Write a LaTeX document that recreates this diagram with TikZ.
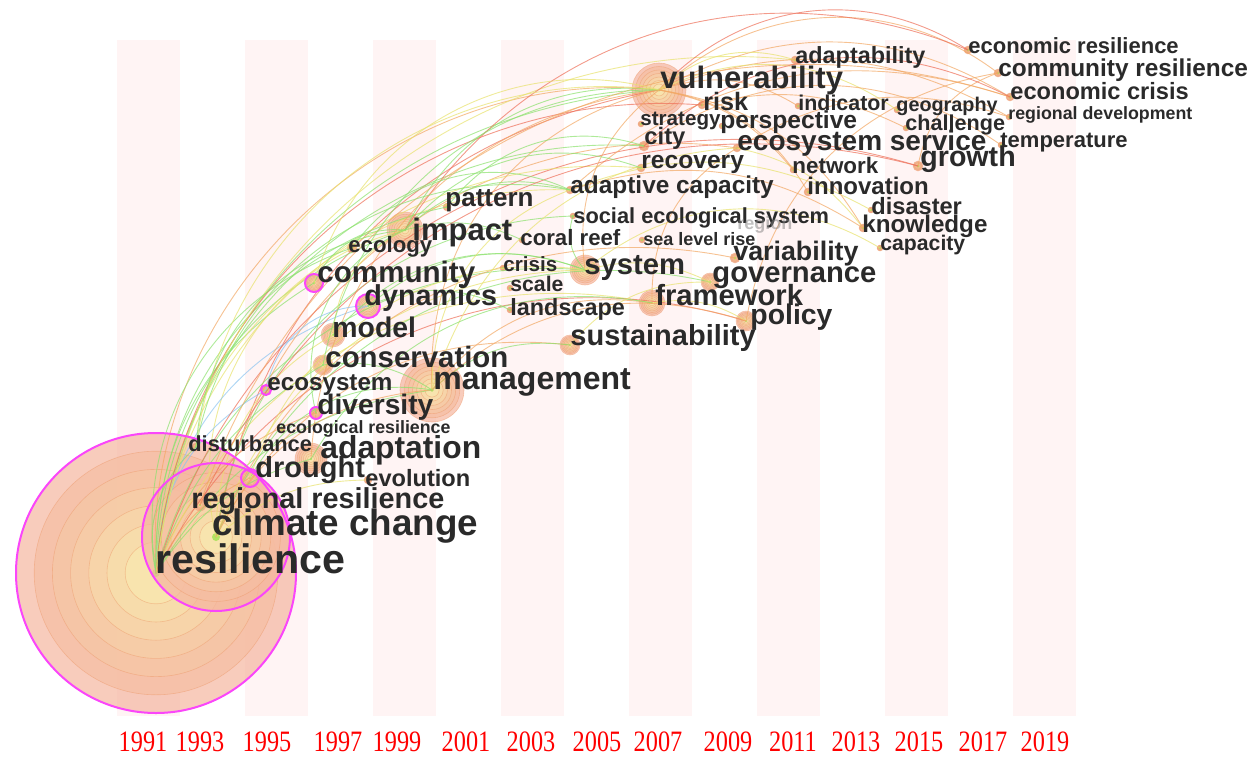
\documentclass[tikz,border=0pt]{standalone}
\usepackage{fontspec}
\setmainfont{Liberation Sans}
\newfontfamily\yearfont[FakeStretch=0.82]{Liberation Serif}
\usepackage{xcolor}
\usepackage{tikz}

\definecolor{stripe}{RGB}{255,244,244}
\definecolor{ringout}{RGB}{245,182,160}
\definecolor{ringin}{RGB}{250,246,180}
\definecolor{ringedge}{RGB}{236,150,100}
\definecolor{ctrgreen}{RGB}{160,226,80}
\definecolor{magring}{RGB}{250,70,250}
\definecolor{kwtext}{RGB}{42,42,42}
\definecolor{lkgreen}{RGB}{140,225,110}
\definecolor{lkyellow}{RGB}{232,226,110}
\definecolor{lkorange}{RGB}{242,168,100}
\definecolor{lkred}{RGB}{238,112,90}
\definecolor{lkblue}{RGB}{140,196,240}

\newcommand{\kwfont}[1]{\fontsize{#1}{#1}\selectfont\bfseries}
% one keyword node: name, x, y, radius
\newcommand{\ringnode}[4]{%
  \coordinate (#1) at (#2,#3);
  \foreach \f [evaluate=\f as \p using int(100*\f)] in {1,0.87,0.74,0.61,0.48,0.35,0.22}
    \filldraw[fill=ringout!\p!ringin, draw=ringedge, line width=0.3pt,
              fill opacity=0.7, draw opacity=0.45] (#1) circle ({#4*\f});
  \fill[ctrgreen, opacity=0.8] (#1) circle ({min(4,max(1.2,0.06*#4))});
}

\tikzset{
  kw/.style={anchor=base west, inner sep=0pt, text=kwtext, font=\kwfont{#1}},
  lk/.style={line width=0.45pt, opacity=0.7},
  halo/.style={draw=magring, line width=1pt},
  year/.style={text=red, inner sep=0pt, font=\yearfont\fontsize{14.8}{14.8}\selectfont}
}

\begin{document}
\begin{tikzpicture}[x=0.5pt, y=-0.5pt]
    \useasboundingbox (0,0) rectangle (1256,770);

    % Time slices
    \foreach \k in {0,...,7}
        \fill[stripe] ({117+128*\k},40) rectangle ++(63,676);

    % Keyword nodes
    \ringnode{res}{156}{573}{140}
    \ringnode{cc}{216}{537}{74}
    \ringnode{dro}{250}{478}{9}
    \ringnode{dist}{196}{447}{4}
    \ringnode{regres}{200}{505}{6}
    \ringnode{adp}{311}{459}{16}
    \ringnode{ecolr}{282}{430}{3}
    \ringnode{div}{316}{413}{6}
    \ringnode{eco}{266}{390}{5}
    \ringnode{evo}{368}{480}{4}
    \ringnode{man}{432}{390}{32}
    \ringnode{con}{323}{365}{10}
    \ringnode{mod}{333}{335}{12}
    \ringnode{dyn}{368}{306}{12}
    \ringnode{com}{314}{283}{9}
    \ringnode{ecolg}{352}{248}{5}
    \ringnode{imp}{405}{230}{18}
    \ringnode{pat}{447}{207}{4}
    \ringnode{sys}{585}{270}{15}
    \ringnode{cri}{503}{268}{3}
    \ringnode{sca}{510}{288}{3}
    \ringnode{lan}{510}{310}{3}
    \ringnode{sus}{570}{345}{10}
    \ringnode{fra}{652}{303}{13}
    \ringnode{pol}{746}{321}{10}
    \ringnode{gov}{710}{282}{9}
    \ringnode{var}{735}{258}{5}
    \ringnode{slr}{642}{240}{3}
    \ringnode{cor}{522}{240}{3}
    \ringnode{ses}{573}{216}{3}
    \ringnode{acap}{570}{190}{4}
    \ringnode{rec}{641}{168}{4}
    \ringnode{city}{644}{146}{5}
    \ringnode{strat}{641}{124}{3}
    \ringnode{vul}{659}{90}{27}
    \ringnode{risk}{702}{105}{4}
    \ringnode{adab}{795}{60}{4}
    \ringnode{ind}{798}{106}{3}
    \ringnode{persp}{722}{126}{3}
    \ringnode{ecs}{737}{148}{4}
    \ringnode{net}{793}{170}{3}
    \ringnode{inn}{808}{192}{4}
    \ringnode{gro}{918}{166}{5}
    \ringnode{geo}{897}{110}{3}
    \ringnode{chal}{906}{128}{3}
    \ringnode{dis}{871}{210}{3}
    \ringnode{know}{863}{228}{4}
    \ringnode{cap}{880}{248}{3}
    \ringnode{temp}{1001}{145}{3}
    \ringnode{ecres}{968}{50}{4}
    \ringnode{comres}{998}{73}{4}
    \ringnode{ecocr}{1010}{97}{4}
    \ringnode{regdev}{1009}{117}{3}

    % Co-occurrence links
    \foreach \a/\b/\c/\ang in {
        res/vul/lkgreen/40, res/vul/lkorange/50, cc/vul/lkred/35,
        res/imp/lkgreen/35, cc/imp/lkyellow/45, res/man/lkgreen/25,
        cc/man/lkorange/30, res/sys/lkgreen/40, cc/sys/lkyellow/35,
        res/com/lkgreen/30, res/dyn/lkblue/35, cc/mod/lkyellow/30,
        res/con/lkgreen/20, res/div/lkorange/25, res/eco/lkblue/30,
        res/adp/lkgreen/20, res/fra/lkyellow/40, cc/sus/lkorange/35,
        res/pol/lkred/40, cc/gov/lkgreen/40, res/acap/lkyellow/45,
        cc/ecs/lkorange/45, res/gro/lkred/45, res/city/lkgreen/45,
        res/rec/lkyellow/45, res/pat/lkgreen/40, cc/ses/lkgreen/40,
        res/dro/lkorange/20, res/dist/lkgreen/30, cc/evo/lkyellow/20,
        res/ecolg/lkgreen/40, cc/var/lkorange/40, res/risk/lkred/45,
        res/adab/lkyellow/45, vul/ecres/lkred/40, vul/comres/lkorange/40,
        vul/ecocr/lkorange/30, vul/adab/lkyellow/30, vul/regdev/lkorange/25,
        vul/ind/lkorange/25, vul/geo/lkyellow/30, imp/vul/lkgreen/35,
        man/vul/lkorange/40, man/ecs/lkyellow/35, imp/acap/lkgreen/30,
        sys/gov/lkyellow/20, sys/ses/lkgreen/30, fra/pol/lkyellow/20,
        man/fra/lkorange/30, dyn/sys/lkgreen/30, com/imp/lkgreen/35,
        mod/imp/lkyellow/30, con/man/lkgreen/20, imp/ecres/lkred/40,
        acap/ecocr/lkorange/30, ecs/regdev/lkorange/25, gro/comres/lkorange/30,
        ecs/know/lkyellow/20, vul/inn/lkorange/25, sys/cap/lkyellow/35,
        man/sus/lkgreen/25, imp/cor/lkgreen/20, dyn/lan/lkgreen/25,
        risk/chal/lkorange/20, city/temp/lkorange/35, acap/dis/lkyellow/25,
        vul/net/lkorange/20, dist/vul/lkyellow/45, dist/imp/lkgreen/40,
        dro/man/lkgreen/35, dro/sys/lkyellow/40, adp/vul/lkorange/40,
        adp/fra/lkgreen/35, regres/gro/lkred/40, regres/ecocr/lkorange/45,
        div/imp/lkgreen/40, eco/dyn/lkblue/40, con/vul/lkgreen/40,
        mod/sys/lkgreen/35, man/acap/lkyellow/35, man/pol/lkorange/30,
        sys/vul/lkorange/30, fra/ecs/lkorange/30, imp/rec/lkgreen/35,
        sus/gov/lkyellow/25, pol/comres/lkorange/35, acap/know/lkorange/25,
        city/ecocr/lkred/35, vul/know/lkorange/25, ecolg/acap/lkgreen/40,
        com/vul/lkyellow/45, pat/city/lkgreen/35, dist/acap/lkgreen/45}
        \draw[lk, draw=\c] (\a) to[bend left=\ang] (\b);

    % Bursting nodes
    \draw[halo] (res) circle (140);
    \draw[halo] (cc) circle (74);
    \draw[halo] (dro) circle (9);
    \draw[halo] (dyn) circle (12);
    \draw[halo] (com) circle (9);
    \draw[halo] (div) circle (6);
    \draw[halo] (eco) circle (5);

    % Labels
    \node[kw=11] (l-ecres) at (968,54) {economic resilience};
    \node[kw=11.7] (l-adab) at (795,64) {adaptability};
    \node[kw=12.2] (l-comres) at (998,77) {community resilience};
    \node[kw=15.5] (l-vul) at (660,89) {vulnerability};
    \node[kw=11.8] (l-ecocr) at (1010,100) {economic crisis};
    \node[kw=12.6] (l-risk) at (703,111) {risk};
    \node[kw=10.7] (l-ind) at (798,111) {indicator};
    \node[kw=9.9] (l-geo) at (896,112) {geography};
    \node[kw=8.9] (l-regdev) at (1008,120) {regional development};
    \node[kw=10.3] (l-strat) at (640,126) {strategy};
    \node[kw=12.3] (l-persp) at (720,129) {perspective};
    \node[kw=10.8] (l-chal) at (905,131) {challenge};
    \node[kw=11.9] (l-city) at (644,145) {city};
    \node[kw=14] (l-ecs) at (737,151) {ecosystem service};
    \node[kw=11] (l-temp) at (1000,148) {temperature};
    \node[kw=14.3] (l-gro) at (920,167) {growth};
    \node[kw=12.3] (l-rec) at (641,169) {recovery};
    \node[kw=11.2] (l-net) at (792,174) {network};
    \node[kw=12.2] (l-acap) at (570,194) {adaptive capacity};
    \node[kw=12] (l-inn) at (807,195) {innovation};
    \node[kw=13] (l-pat) at (445,206) {pattern};
    \node[kw=11.8] (l-dis) at (871,214) {disaster};
    \node[kw=10.9] (l-ses) at (573,223) {social ecological system};
    \node[kw=9, text=gray, opacity=0.5] (l-reg) at (737,229) {region};
    \node[kw=12.1] (l-know) at (862,232) {knowledge};
    \node[kw=15.5] (l-imp) at (412,240) {impact};
    \node[kw=11.1] (l-cor) at (520,245) {coral reef};
    \node[kw=9] (l-slr) at (643,245) {sea level rise};
    \node[kw=11.1] (l-ecolg) at (348,252) {ecology};
    \node[kw=10.6] (l-cap) at (880,250) {capacity};
    \node[kw=13.4] (l-var) at (733,260) {variability};
    \node[kw=10.3] (l-cri) at (503,271) {crisis};
    \node[kw=14.6] (l-sys) at (584,274) {system};
    \node[kw=14.8] (l-com) at (317,282) {community};
    \node[kw=14.6] (l-gov) at (712,282) {governance};
    \node[kw=10.6] (l-sca) at (510,291) {scale};
    \node[kw=14.4] (l-dyn) at (364,305) {dynamics};
    \node[kw=14.6] (l-fra) at (655,305) {framework};
    \node[kw=11.7] (l-lan) at (510,315) {landscape};
    \node[kw=14.2] (l-pol) at (750,324) {policy};
    \node[kw=14.2] (l-mod) at (332,337) {model};
    \node[kw=14.5] (l-sus) at (570,345) {sustainability};
    \node[kw=14.7] (l-con) at (325,367) {conservation};
    \node[kw=16] (l-man) at (433,389) {management};
    \node[kw=12.1] (l-eco) at (267,390) {ecosystem};
    \node[kw=14.1] (l-div) at (317,414) {diversity};
    \node[kw=8.9] (l-ecolr) at (276,433) {ecological resilience};
    \node[kw=10.9] (l-dist) at (188,451) {disturbance};
    \node[kw=15.9] (l-adp) at (320,458) {adaptation};
    \node[kw=14.5] (l-dro) at (255,477) {drought};
    \node[kw=11.8] (l-evo) at (365,486) {evolution};
    \node[kw=14.4] (l-regres) at (191,508) {regional resilience};
    \node[kw=18.4] (l-cc) at (212,535) {climate change};
    \node[kw=20.6] (l-res) at (155,573) {resilience};

    % Years
    \foreach \yr/\x in {1991/143, 1993/200, 1995/267, 1997/338, 1999/397,
        2001/466, 2003/531, 2005/597, 2007/658, 2009/728, 2011/793,
        2013/856, 2015/919, 2017/983, 2019/1045}
        \node[year] (y\yr) at (\x,742) {\yr};
\end{tikzpicture}
\end{document}
